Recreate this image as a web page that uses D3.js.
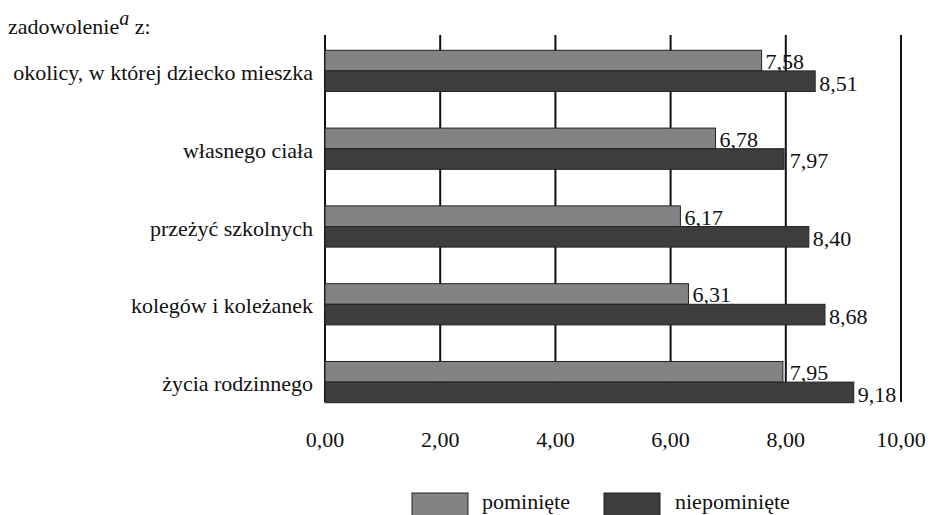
<!DOCTYPE html>
<html><head><meta charset="utf-8">
<script src="https://cdn.jsdelivr.net/npm/d3@7"></script>
<style>body{margin:0;background:#fff}svg{display:block}</style>
</head><body>
<script>
const categories = ["okolicy, w której dziecko mieszka","własnego ciała","przeżyć szkolnych","kolegów i koleżanek","życia rodzinnego"];
const pominiete = [7.58, 6.78, 6.17, 6.31, 7.95];
const niepominiete = [8.51, 7.97, 8.40, 8.68, 9.18];
const seriesNames = ["pominięte","niepominięte"];
const ticks = [0,2,4,6,8,10];
const fmt = v => v.toFixed(2).replace(".", ",");

const W=932,H=515, FS=22;
const svg=d3.select("body").append("svg").attr("width",W).attr("height",H)
  .attr("font-family","'Liberation Serif', serif").attr("fill","#111");
const x=d3.scaleLinear().domain([0,10]).range([325,901]);
const y=d3.scaleBand().domain(categories).range([32,421]).paddingInner(0.47).paddingOuter(0.235);
const colors=["#838385","#3d3d3d"];

svg.append("g").selectAll("line").data(ticks).join("line")
  .attr("x1",d=>x(d)).attr("x2",d=>x(d)).attr("y1",35).attr("y2",402)
  .attr("stroke","#111").attr("stroke-width",2);

// label x: just right of bar end, pushed past a gridline that it would touch
const labelX = d => {
  let lx = x(d) + 4;
  ticks.forEach(t => { const gx = x(t); if (gx > x(d) - 1 && gx < lx + 1) lx = gx + 4; });
  return lx;
};

const bh=y.bandwidth()/2;
const series=[pominiete,niepominiete];
series.forEach((vals,si)=>{
  const g=svg.append("g");
  g.selectAll("rect").data(vals).join("rect")
    .attr("x",x(0)).attr("y",(d,i)=>y(categories[i])+si*bh)
    .attr("width",d=>x(d)-x(0)).attr("height",bh)
    .attr("fill",colors[si]).attr("stroke","#222").attr("stroke-width",1);
  g.selectAll("text").data(vals).join("text")
    .attr("x",labelX).attr("y",(d,i)=>y(categories[i])+si*bh+bh-2+(si?1:0))
    .attr("font-size",FS).text(fmt);
});

svg.append("g").selectAll("text").data(categories).join("text")
  .attr("x",313).attr("y",d=>y(d)+bh+9).attr("text-anchor","end")
  .attr("font-size",FS).text(d=>d);

const t=svg.append("text").attr("x",8).attr("y",34).attr("font-size",FS);
t.append("tspan").text("zadowolenie");
t.append("tspan").attr("font-style","italic").attr("dy",-9).attr("font-size",20).text("a");
t.append("tspan").attr("dy",9).text(" z:");

svg.append("g").selectAll("text").data(ticks).join("text")
  .attr("x",d=>x(d)).attr("y",447).attr("text-anchor","middle")
  .attr("font-size",FS).text(fmt);

const leg=[{x:412,tx:482},{x:604,tx:675}];
leg.forEach((l,i)=>{
  svg.append("rect").attr("x",l.x).attr("y",493).attr("width",56).attr("height",24)
    .attr("fill",colors[i]).attr("stroke","#222");
  svg.append("text").attr("x",l.tx).attr("y",509).attr("font-size",FS).text(seriesNames[i]);
});
</script>
</body></html>
